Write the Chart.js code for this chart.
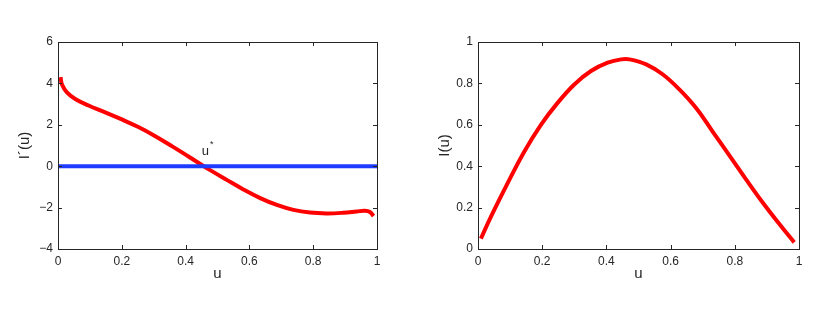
<!DOCTYPE html>
<html>
<head>
<meta charset="utf-8">
<script src="https://cdn.jsdelivr.net/npm/chart.js@4"></script>
<style>
  html, body { margin: 0; padding: 0; background: #fff; }
  body { width: 830px; height: 310px; position: relative; overflow: hidden; }
  .box { position: absolute; top: 0; height: 310px; }
  #leftBox { left: 0; width: 400px; }
  #rightBox { left: 420px; width: 410px; }
</style>
</head>
<body>
<div class="box" id="leftBox"><canvas id="left"></canvas></div>
<div class="box" id="rightBox"><canvas id="right"></canvas></div>
<script>
// ---- data ----
const uLeft     = [0.008, 0.0125, 0.028, 0.054, 0.096, 0.148, 0.200, 0.252, 0.305, 0.357, 0.409, 0.451, 0.477, 0.529, 0.581, 0.634, 0.686, 0.738, 0.790, 0.842, 0.894, 0.936, 0.962, 0.978, 0.989];
const dIvalues  = [4.30, 3.95, 3.57, 3.25, 2.93, 2.60, 2.26, 1.89, 1.45, 0.97, 0.47, 0.06, -0.19, -0.66, -1.12, -1.54, -1.87, -2.11, -2.24, -2.28, -2.25, -2.19, -2.15, -2.21, -2.41];
const uZeroLine = [0, 1];
const zeroLine  = [0, 0];
const uRight    = [0.009, 0.040, 0.092, 0.144, 0.196, 0.248, 0.300, 0.352, 0.404, 0.446, 0.472, 0.524, 0.576, 0.628, 0.680, 0.732, 0.784, 0.836, 0.888, 0.940, 0.985];
const Ivalues   = [0.050, 0.155, 0.317, 0.470, 0.600, 0.706, 0.795, 0.860, 0.900, 0.916, 0.916, 0.892, 0.843, 0.770, 0.680, 0.565, 0.450, 0.334, 0.222, 0.118, 0.032];
const xTicks     = [0, 0.2, 0.4, 0.6, 0.8, 1];
const yTicksLeft = [-4, -2, 0, 2, 4, 6];
const yTicksRight = [0, 0.2, 0.4, 0.6, 0.8, 1];
const annotationLabel = { text: 'u', sup: '*', u: 0.46, value: 0.55 };

const FONT = '"Liberation Sans", Arial, Helvetica, sans-serif';
const INK = '#262626';

function pts(xs, ys) { return xs.map((x, i) => ({ x: x, y: ys[i] })); }
function fmt(v) {
  let s = String(Math.round(v * 10) / 10);
  return s.replace('-', '\u2212');
}

// frame + inward ticks (MATLAB style)
const framePlugin = {
  id: 'frame',
  afterDatasetsDraw(chart) {
    const { ctx, chartArea: a, scales } = chart;
    ctx.save();
    ctx.strokeStyle = INK;
    ctx.lineWidth = 1;
    ctx.strokeRect(Math.round(a.left) + 0.5, Math.round(a.top) + 0.5,
                   Math.round(a.right - a.left), Math.round(a.bottom - a.top));
    const L = 4;
    ctx.beginPath();
    scales.x.ticks.forEach(t => {
      const px = Math.round(scales.x.getPixelForValue(t.value)) + 0.5;
      ctx.moveTo(px, a.bottom); ctx.lineTo(px, a.bottom - L);
      ctx.moveTo(px, a.top); ctx.lineTo(px, a.top + L);
    });
    scales.y.ticks.forEach(t => {
      const py = Math.round(scales.y.getPixelForValue(t.value)) + 0.5;
      ctx.moveTo(a.left, py); ctx.lineTo(a.left + L, py);
      ctx.moveTo(a.right, py); ctx.lineTo(a.right - L, py);
    });
    ctx.stroke();
    ctx.restore();
  }
};

const annotPlugin = {
  id: 'annot',
  afterDatasetsDraw(chart, args, opts) {
    if (!opts || !opts.show) return;
    const { ctx, scales } = chart;
    const px = scales.x.getPixelForValue(annotationLabel.u);
    const py = scales.y.getPixelForValue(annotationLabel.value);
    ctx.save();
    ctx.fillStyle = INK;
    ctx.textBaseline = 'alphabetic';
    ctx.textAlign = 'left';
    ctx.font = '13px ' + FONT;
    ctx.fillText(annotationLabel.text, px - 3, py);
    const w = ctx.measureText(annotationLabel.text).width;
    ctx.font = '9px ' + FONT;
    ctx.fillText(annotationLabel.sup, px - 3 + w + 1, py - 8);
    ctx.restore();
  }
};

function makeOptions(yMin, yMax, yTitle, yTickVals, padRight, annot) {
  return {
    responsive: false,
    animation: false,
    devicePixelRatio: 1,
    layout: { padding: { top: 42, right: padRight, bottom: 0, left: 0 } },
    plugins: { legend: { display: false }, tooltip: { enabled: false }, annot: { show: annot } },
    elements: { point: { radius: 0 } },
    scales: {
      x: {
        type: 'linear', min: 0, max: 1,
        grid: { display: false, drawTicks: false },
        border: { display: false },
        afterBuildTicks: s => { s.ticks = xTicks.map(v => ({ value: v })); },
        afterFit: s => { s.height = 61; },
        ticks: { color: INK, padding: 5, font: { family: FONT, size: 12 }, callback: v => fmt(v), maxRotation: 0 },
        title: { display: true, text: 'u', color: INK, font: { family: FONT, size: 15 }, padding: { top: 0, bottom: 27 } }
      },
      y: {
        type: 'linear', min: yMin, max: yMax,
        grid: { display: false, drawTicks: false },
        border: { display: false },
        afterBuildTicks: s => { s.ticks = yTickVals.map(v => ({ value: v })); },
        afterFit: s => { s.width = 58; },
        ticks: { color: INK, padding: 5, font: { family: FONT, size: 12 }, callback: v => fmt(v) },
        title: { display: true, text: yTitle, color: INK, font: { family: FONT, size: 15 }, padding: { top: 16, bottom: 0 } }
      }
    }
  };
}

function setupCanvas(id, w, h) {
  const c = document.getElementById(id);
  c.width = w; c.height = h;
  c.style.width = w + 'px'; c.style.height = h + 'px';
  return c;
}

new Chart(setupCanvas('left', 400, 310), {
  type: 'line',
  data: {
    datasets: [
      { data: pts(uZeroLine, zeroLine), borderColor: 'rgb(30,60,255)', borderWidth: 4, tension: 0 },
      { data: pts(uLeft, dIvalues), borderColor: 'rgb(255,0,0)', borderWidth: 4, tension: 0.4, borderCapStyle: 'butt', borderJoinStyle: 'round' }
    ]
  },
  options: makeOptions(-4, 6, 'I\u00B4(u)', yTicksLeft, 23, true),
  plugins: [framePlugin, annotPlugin]
});

new Chart(setupCanvas('right', 410, 310), {
  type: 'line',
  data: {
    datasets: [
      { data: pts(uRight, Ivalues), borderColor: 'rgb(255,0,0)', borderWidth: 4, tension: 0.4, borderCapStyle: 'butt', borderJoinStyle: 'round' }
    ]
  },
  options: makeOptions(0, 1, 'I(u)', yTicksRight, 31, false),
  plugins: [framePlugin, annotPlugin]
});
</script>
</body>
</html>
